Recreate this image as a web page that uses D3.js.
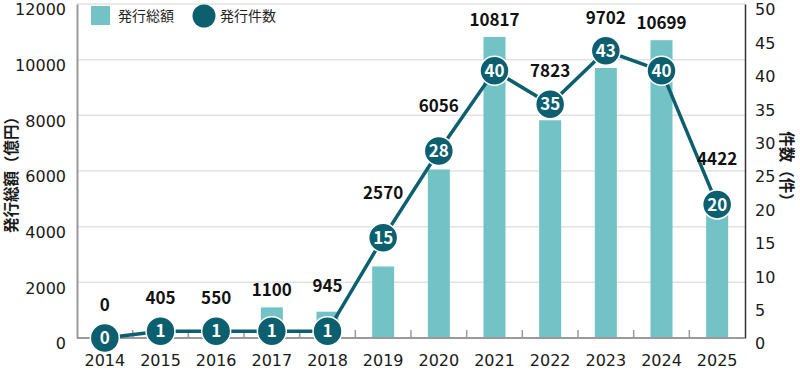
<!DOCTYPE html>
<html>
<head>
<meta charset="utf-8">
<script src="https://cdn.jsdelivr.net/npm/d3@7"></script>
<style>
  body { margin: 0; background: #fff; }
  svg { display: block; }
  .tick-label { font-family: "DejaVu Sans", sans-serif; font-size: 16px; fill: #1a1a1a; }
  .val-label { font-family: "Noto Sans CJK JP", sans-serif; font-weight: 700; font-size: 17px; fill: #111; }
  .cnt-label { font-family: "Noto Sans CJK JP", sans-serif; font-weight: 700; font-size: 17px; fill: #fff; }
  .title { font-family: "Noto Sans CJK JP", sans-serif; font-weight: 700; font-size: 15.5px; fill: #1a1a1a; }
  .legend { font-family: "Noto Sans CJK JP", sans-serif; font-size: 14px; fill: #222; }
</style>
</head>
<body>
<svg id="chart"></svg>
<script>
const years = ["2014", "2015", "2016", "2017", "2018", "2019", "2020", "2021", "2022", "2023", "2024", "2025"];
const amounts = [0, 405, 550, 1100, 945, 2570, 6056, 10817, 7823, 9702, 10699, 4422];
const counts = [0, 1, 1, 1, 1, 15, 28, 40, 35, 43, 40, 20];
const amountTicks = [0, 2000, 4000, 6000, 8000, 10000, 12000];
const countTicks = [0, 5, 10, 15, 20, 25, 30, 35, 40, 45, 50];

const totalWidth = 800, totalHeight = 373;
const margin = { top: 4, right: 55, bottom: 35, left: 77 };
const width = totalWidth - margin.left - margin.right,
    height = totalHeight - margin.top - margin.bottom;

const barColor = "#72c2c6", lineColor = "#0b5f6f";

const svg = d3.select("#chart").attr("width", totalWidth).attr("height", totalHeight);
const g = svg.append("g").attr("transform", "translate(" + margin.left + "," + margin.top + ")");

const x = d3.scaleBand().domain(years).range([0, width]);
const yAmt = d3.scaleLinear().domain([0, 12000]).range([height, 0]);
const yCnt = d3.scaleLinear().domain([0, 50]).range([height, 0]);

// grid lines
g.append("g")
    .selectAll("line")
    .data(amountTicks.filter(t => t > 0))
    .enter()
    .append("line")
    .attr("x1", 0).attr("x2", width)
    .attr("y1", d => yAmt(d)).attr("y2", d => yAmt(d))
    .attr("stroke", "#e2e2e2").attr("stroke-width", 1.5);

// bars
g.append("g")
    .selectAll("rect")
    .data(years)
    .enter()
    .append("rect")
    .attr("x", d => x(d) + x.bandwidth() / 2 - 11)
    .attr("width", 22)
    .attr("y", (d, i) => yAmt(amounts[i]))
    .attr("height", (d, i) => height - yAmt(amounts[i]))
    .attr("fill", barColor);

// left axis
const leftAxis = g.append("g")
    .call(d3.axisLeft(yAmt).tickValues(amountTicks).tickFormat(d3.format("d")).tickSize(0).tickPadding(11));
leftAxis.select(".domain").attr("stroke", "#9a9a9a").attr("stroke-width", 2);
leftAxis.selectAll("text").attr("class", "tick-label").attr("font-size", null).attr("font-family", null).attr("dy", "0.68em");

// right axis
const rightAxis = g.append("g")
    .attr("transform", "translate(" + width + ",0)")
    .call(d3.axisRight(yCnt).tickValues(countTicks).tickSize(0).tickPadding(10));
rightAxis.select(".domain").attr("stroke", "#333").attr("stroke-width", 1.5);
rightAxis.selectAll("text").attr("class", "tick-label").attr("font-size", null).attr("font-family", null).attr("dy", "0.68em");

// bottom axis
const xAxis = g.append("g")
    .attr("transform", "translate(0," + height + ")")
    .call(d3.axisBottom(x).tickSize(0).tickPadding(10));
xAxis.select(".domain").remove();
xAxis.selectAll("text").attr("class", "tick-label").attr("font-size", null).attr("font-family", null).attr("dy", "1.15em");
g.append("line")
    .attr("x1", 0).attr("x2", width)
    .attr("y1", height).attr("y2", height)
    .attr("stroke", "#9a9a9a").attr("stroke-width", 2);
g.append("g")
    .selectAll("line")
    .data(years.slice(1))
    .enter()
    .append("line")
    .attr("x1", d => x(d)).attr("x2", d => x(d))
    .attr("y1", height).attr("y2", height - 8)
    .attr("stroke", "#9a9a9a").attr("stroke-width", 1.5);

// line
const line = d3.line()
    .x((d, i) => x(years[i]) + x.bandwidth() / 2)
    .y(d => yCnt(d));
g.append("path")
    .datum(counts)
    .attr("d", line)
    .attr("fill", "none")
    .attr("stroke", lineColor)
    .attr("stroke-width", 3.5);

// count circles
const pts = g.append("g")
    .selectAll("g")
    .data(counts)
    .enter()
    .append("g")
    .attr("transform", (d, i) => "translate(" + (x(years[i]) + x.bandwidth() / 2) + "," + yCnt(d) + ")");
pts.append("circle")
    .attr("r", 14.5)
    .attr("fill", lineColor)
    .attr("stroke", "#fff")
    .attr("stroke-width", 1.5);
pts.append("text")
    .attr("class", "cnt-label")
    .attr("text-anchor", "middle")
    .attr("dy", "0.36em")
    .text(d => d);

// amount labels, lifted above the bar or the circle, further where the line is steep
g.append("g")
    .selectAll("text")
    .data(amounts)
    .enter()
    .append("text")
    .attr("class", "val-label")
    .attr("text-anchor", "middle")
    .attr("x", (d, i) => x(years[i]) + x.bandwidth() / 2)
    .attr("y", (d, i) => {
        const prev = i > 0 ? counts[i - 1] : counts[i];
        const next = i < counts.length - 1 ? counts[i + 1] : counts[i];
        const steep = Math.max(Math.abs(counts[i] - prev), Math.abs(counts[i] - next)) > 10;
        return Math.min(yAmt(d) - 17, yCnt(counts[i]) - (steep ? 45 : 33));
    })
    .attr("dy", "0.35em")
    .text(d => d);

// axis titles
svg.append("text")
    .attr("class", "title")
    .attr("text-anchor", "middle")
    .attr("transform", "translate(12,171) rotate(-90)")
    .attr("dy", "0.35em")
    .text("発行総額（億円）");
svg.append("text")
    .attr("class", "title")
    .attr("text-anchor", "middle")
    .attr("transform", "translate(786,170) rotate(90)")
    .attr("dy", "0.35em")
    .text("件数（件）");

// legend
const legend = svg.append("g");
legend.append("rect").attr("x", 91).attr("y", 6).attr("width", 19).attr("height", 19).attr("fill", barColor);
legend.append("text").attr("class", "legend").attr("x", 118).attr("y", 16).attr("dy", "0.35em").text("発行総額");
legend.append("circle").attr("cx", 204).attr("cy", 16).attr("r", 11.5).attr("fill", lineColor);
legend.append("text").attr("class", "legend").attr("x", 220).attr("y", 16).attr("dy", "0.35em").text("発行件数");
</script>
</body>
</html>
